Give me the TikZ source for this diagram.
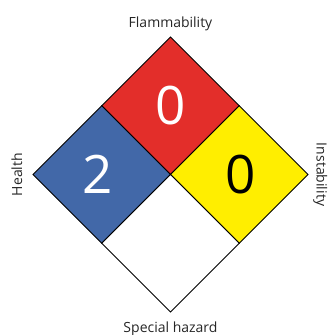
\documentclass[tikz,border=0pt]{standalone}
\usepackage{fontspec}
\setmainfont{Open Sans}
\usetikzlibrary{positioning, shapes.geometric}
\definecolor{nfpared}{RGB}{227,46,42}
\definecolor{nfpablue}{RGB}{66,104,168}
\definecolor{nfpayellow}{RGB}{255,238,0}

\begin{document}
\begin{tikzpicture}[
  x=1pt, y=-1pt,
  hazard/.style={diamond, draw=black, line width=0.8pt, minimum width=137.5pt, minimum height=137.5pt, inner sep=0pt, outer sep=0pt},
  rating/.style={font=\fontsize{53}{53}\selectfont, inner sep=0pt},
  caption/.style={font=\fontsize{14}{16}\selectfont, text=black!85, inner sep=0pt}
]
\useasboundingbox (0,0) rectangle (328,335);

% the four quarters of the diamond
\node[hazard, fill=nfpared] (flam) at (170.5,105.75) {};
\node[hazard, fill=nfpablue, anchor=north] (health) at (flam.west) {};
\node[hazard, fill=nfpayellow, anchor=north] (inst) at (flam.east) {};
\node[hazard, fill=white, anchor=north] (special) at (flam.south) {};

% ratings
\node[rating, text=white] (flamval) at (flam.center) {0};
\node[rating, text=white] (healthval) at ([xshift=-4pt]health.center) {2};
\node[rating, text=black] (instval) at ([xshift=1.5pt]inst.center) {0};

% captions
\node[caption, anchor=base] (flamcap) at ([yshift=10pt]flam.north) {Flammability};
\node[caption, anchor=base, rotate=90] (healthcap) at ([xshift=-11pt]health.west) {Health};
\node[caption, anchor=base, rotate=-90] (instcap) at ([xshift=8.5pt]inst.east) {Instability};
\node[caption, anchor=base] (specialcap) at ([yshift=-20pt]special.south) {Special hazard};

\end{tikzpicture}
\end{document}
